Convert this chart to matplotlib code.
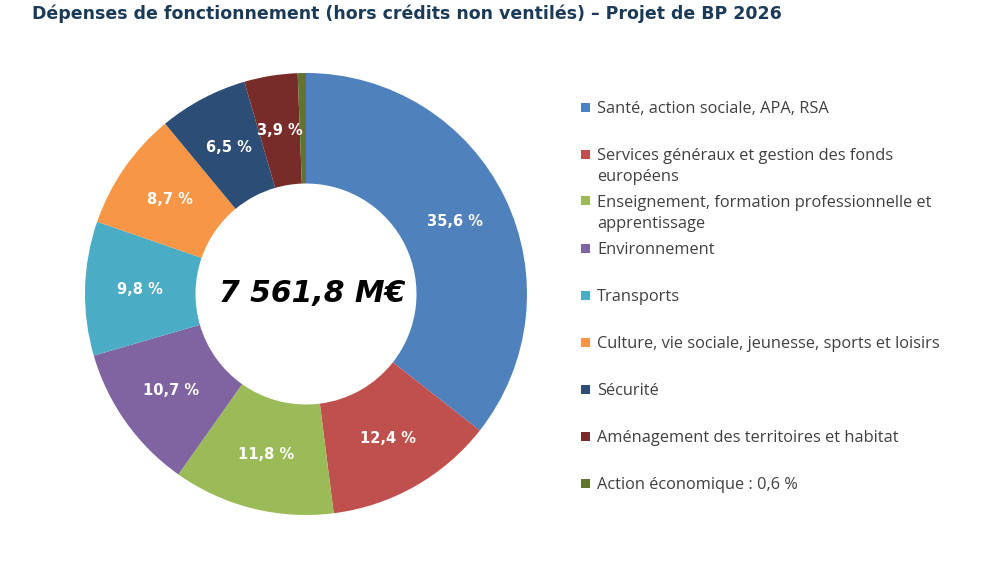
import matplotlib
matplotlib.use("Agg")
import matplotlib.pyplot as plt
import numpy as np

categories = [
    "Santé, action sociale, APA, RSA",
    "Services généraux et gestion des fonds\neuropéens",
    "Enseignement, formation professionnelle et\napprentissage",
    "Environnement",
    "Transports",
    "Culture, vie sociale, jeunesse, sports et loisirs",
    "Sécurité",
    "Aménagement des territoires et habitat",
    "Action économique : 0,6 %",
]
shares = [35.6, 12.4, 11.8, 10.7, 9.8, 8.7, 6.5, 3.9, 0.6]
slice_labels = ["35,6 %", "12,4 %", "11,8 %", "10,7 %", "9,8 %", "8,7 %", "6,5 %", "3,9 %", ""]
colors = ["#4F81BD", "#C0504D", "#9BBB59", "#8064A2", "#4BACC6",
          "#F79646", "#2C4D75", "#772C2A", "#5F7530"]
total = "7 561,8 M€"

W, H = 983, 564
fig = plt.figure(figsize=(W / 100, H / 100), dpi=100)

# donut, centre (306, 294) px, radius 221 px
cx, cy, r = 306, 294, 221
ax = fig.add_axes([(cx - r) / W, (H - cy - r) / H, 2 * r / W, 2 * r / H])
wedges, texts = ax.pie(shares, colors=colors, startangle=90, counterclock=False,
                       radius=1, wedgeprops=dict(width=0.5, linewidth=0))
ax.set_xlim(-1, 1)
ax.set_ylim(-1, 1)
ax.set_aspect("equal")
ax.axis("off")

for w, lab in zip(wedges, slice_labels):
    mid = np.deg2rad((w.theta1 + w.theta2) / 2)
    if lab:
        ax.text(0.75 * np.cos(mid), 0.75 * np.sin(mid), lab, ha="center", va="center",
                color="white", fontsize=10.5, fontweight="bold", family="DejaVu Sans")

ax.text(0.03, 0, total, ha="center", va="center", fontsize=21.5, fontweight="heavy",
        fontstyle="italic", family="DejaVu Sans", color="black")

fig.text(32 / W, 1 - 14 / H, "Dépenses de fonctionnement (hors crédits non ventilés) – Projet de BP 2026",
         ha="left", va="center", fontsize=12.5, fontweight="bold", color="#1B3A57",
         family="DejaVu Sans")

# legend
for i, (name, c) in enumerate(zip(categories, colors)):
    y = 107 + 47 * i
    fig.patches.append(plt.Rectangle(((585 - 4.5) / W, 1 - (y + 4.5) / H), 9 / W, 9 / H,
                                     transform=fig.transFigure, facecolor=c, edgecolor="none"))
    fig.text(597 / W, 1 - (y - 6) / H, name, ha="left", va="top", fontsize=11.8,
             color="#404040", family="Open Sans", linespacing=1.45)

fig.savefig("out.png", dpi=100)
